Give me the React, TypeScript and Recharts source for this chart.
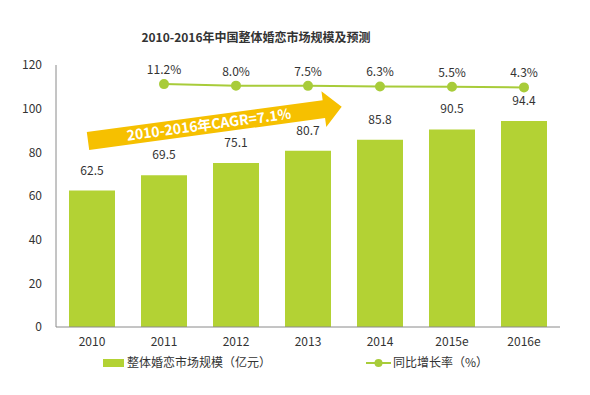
import {
  Bar,
  ComposedChart,
  LabelList,
  Line,
  XAxis,
  YAxis,
} from "recharts";

const years = ["2010", "2011", "2012", "2013", "2014", "2015e", "2016e"];
const marketSize = [62.5, 69.5, 75.1, 80.7, 85.8, 90.5, 94.4];
const growthRate = [null, 11.2, 8.0, 7.5, 6.3, 5.5, 4.3];
const yTicks = [0, 20, 40, 60, 80, 100, 120];

const TITLE = "2010-2016年中国整体婚恋市场规模及预测";
const CAGR_TEXT = "2010-2016年CAGR=7.1%";
const BAR_NAME = "整体婚恋市场规模（亿元）";
const LINE_NAME = "同比增长率（%）";

const FONT = "'Noto Sans CJK SC', 'Noto Sans', sans-serif";
const BAR_COLOR = "#b3d234";
const LINE_COLOR = "#a8cc3a";
const AXIS = "#8a8a8a";
const TEXT = "#333333";

const data = years.map((y, i) => ({
  year: y,
  size: marketSize[i],
  rate: growthRate[i],
}));

// legend drawn as plain html under the chart
function ChartLegend() {
  return (
    <div style={{ position: "absolute", left: 0, top: 353, width: 590, height: 20, fontSize: 12, color: TEXT }}>
      <div style={{ position: "absolute", left: 103, top: 6, width: 21, height: 8, background: BAR_COLOR }} />
      <div style={{ position: "absolute", left: 127, top: 0, whiteSpace: "nowrap" }}>{BAR_NAME}</div>
      <svg style={{ position: "absolute", left: 366, top: 3 }} width={25} height={14}>
        <line x1={0} y1={7} x2={25} y2={7} stroke={LINE_COLOR} strokeWidth={2} />
        <circle cx={12.5} cy={7} r={4} fill={LINE_COLOR} />
      </svg>
      <div style={{ position: "absolute", left: 393, top: 0, whiteSpace: "nowrap" }}>{LINE_NAME}</div>
    </div>
  );
}

export default function App() {
  return (
    <div style={{ position: "absolute", left: 0, top: 0, width: 590, height: 395, background: "#fff", fontFamily: FONT }}>
      <div
        style={{
          position: "absolute",
          left: 0,
          width: 512,
          top: 28,
          textAlign: "center",
          fontWeight: "bold",
          fontSize: 12,
          color: TEXT,
        }}
      >
        {TITLE}
      </div>
      <ComposedChart
        width={590}
        height={395}
        data={data}
        margin={{ top: 65, right: 30, bottom: 38, left: 16 }}
        barCategoryGap={13}
      >
        <XAxis
          dataKey="year"
          height={30}
          axisLine={{ stroke: AXIS }}
          tickLine={false}
          tickMargin={4}
          tick={{ fill: TEXT, fontSize: 12 }}
          interval={0}
        />
        <YAxis
          yAxisId="left"
          domain={[0, 120]}
          ticks={yTicks}
          width={40}
          axisLine={{ stroke: AXIS }}
          tickLine={false}
          tickMargin={8}
          tick={{ fill: TEXT, fontSize: 12 }}
        />
        <YAxis yAxisId="right" orientation="right" domain={[-495, 51]} hide />
        <Bar yAxisId="left" dataKey="size" name={BAR_NAME} fill={BAR_COLOR} isAnimationActive={false}>
          <LabelList
            dataKey="size"
            position="top"
            offset={16}
            formatter={(v: number) => v.toFixed(1)}
            style={{ fill: TEXT, fontSize: 12 }}
          />
        </Bar>
        <Line
          yAxisId="right"
          dataKey="rate"
          name={LINE_NAME}
          stroke={LINE_COLOR}
          strokeWidth={2}
          dot={{ r: 4, fill: LINE_COLOR, stroke: LINE_COLOR }}
          isAnimationActive={false}
        >
          <LabelList
            dataKey="rate"
            position="top"
            offset={10}
            formatter={(v: number | null) => (v == null ? "" : `${v.toFixed(1)}%`)}
            style={{ fill: TEXT, fontSize: 12 }}
          />
        </Line>
      </ComposedChart>
      <ChartLegend />
      {/* CAGR arrow annotation */}
      <svg style={{ position: "absolute", left: 0, top: 0, pointerEvents: "none" }} width={590} height={395}>
        <g transform="translate(88,141) rotate(-7.7)">
          <polygon points="0,-9 238,-9 238,-18 256,0 238,18 238,9 0,9" fill="#f6c000" />
          <text
            x={122}
            y={5}
            textAnchor="middle"
            fill="#ffffff"
            fontWeight="bold"
            fontSize={14}
            fontFamily={FONT}
          >
            {CAGR_TEXT}
          </text>
        </g>
      </svg>
    </div>
  );
}
